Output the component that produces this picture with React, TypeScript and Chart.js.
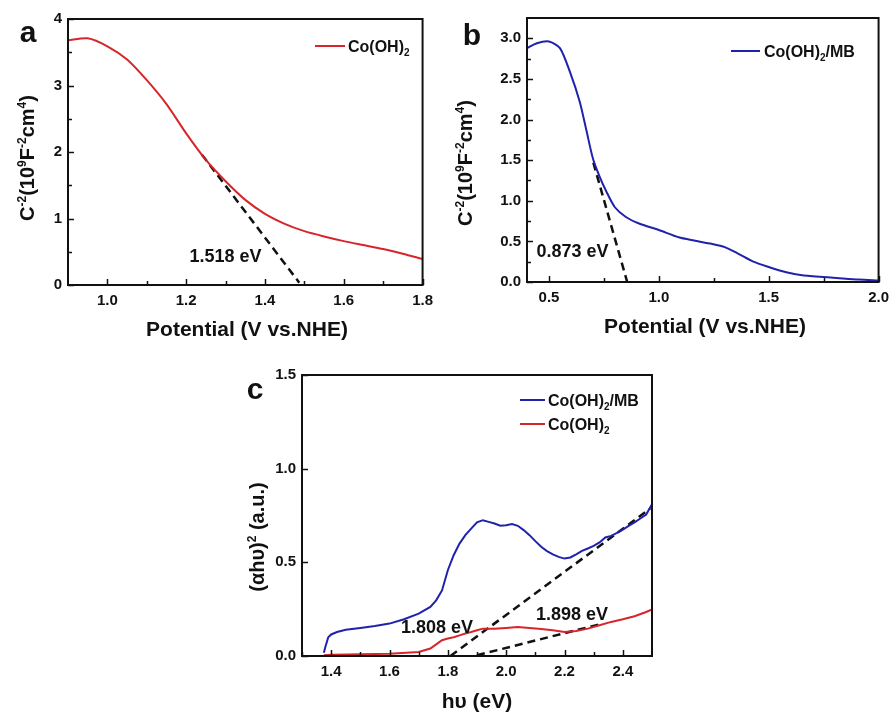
import React, { useEffect, useRef } from 'react';
import { Chart, registerables } from 'chart.js';

Chart.register(...registerables);

const FONT = '"Liberation Sans", Arial, Helvetica, sans-serif';
const RED = '#d7262b';
const BLUE = '#2022ad';
const INK = '#111111';

// ---------- Panel a : Mott-Schottky Co(OH)2 ----------
const aPotential = [0.90, 0.95, 1.00, 1.05, 1.10, 1.15, 1.20, 1.25, 1.30, 1.35, 1.40, 1.45, 1.50, 1.55, 1.60, 1.65, 1.70, 1.75, 1.80];
const aC2 = [3.68, 3.71, 3.59, 3.39, 3.08, 2.72, 2.28, 1.88, 1.56, 1.28, 1.07, 0.92, 0.81, 0.73, 0.66, 0.60, 0.54, 0.47, 0.39];
const aFitX = [1.24, 1.487];
const aFitY = [1.96, 0.035];
const aXMajor = [1.0, 1.2, 1.4, 1.6, 1.8];
const aXMinor = [1.1, 1.3, 1.5, 1.7];
const aYMajor = [0, 1, 2, 3, 4];
const aYMinor = [0.5, 1.5, 2.5, 3.5];

// ---------- Panel b : Mott-Schottky Co(OH)2/MB ----------
const bPotential = [0.40, 0.445, 0.50, 0.55, 0.595, 0.64, 0.67, 0.70, 0.73, 0.76, 0.80, 0.85, 0.91, 1.00, 1.09, 1.16, 1.24, 1.30, 1.36, 1.43, 1.50, 1.58, 1.66, 1.81, 1.91, 2.00];
const bC2 = [2.88, 2.94, 2.96, 2.88, 2.59, 2.22, 1.87, 1.52, 1.30, 1.12, 0.92, 0.80, 0.72, 0.64, 0.55, 0.51, 0.47, 0.43, 0.35, 0.25, 0.185, 0.12, 0.08, 0.05, 0.03, 0.02];
const bFitX = [0.702, 0.856];
const bFitY = [1.47, 0.0];
const bXMajor = [0.5, 1.0, 1.5, 2.0];
const bXMinor = [0.75, 1.25, 1.75];
const bYMajor = [0, 0.5, 1.0, 1.5, 2.0, 2.5, 3.0];
const bYMinor = [0.25, 0.75, 1.25, 1.75, 2.25, 2.75];

// ---------- Panel c : Tauc plot ----------
const cEnergyMB = [1.375, 1.38, 1.39, 1.40, 1.42, 1.45, 1.50, 1.55, 1.60, 1.65, 1.70, 1.74, 1.76, 1.78, 1.80, 1.82, 1.84, 1.86, 1.88, 1.90, 1.92, 1.94, 1.96, 1.98, 2.00, 2.02, 2.04, 2.06, 2.08, 2.10, 2.12, 2.14, 2.16, 2.18, 2.20, 2.22, 2.24, 2.26, 2.28, 2.30, 2.32, 2.34, 2.36, 2.38, 2.40, 2.42, 2.44, 2.46, 2.48, 2.50];
const cAbsMB = [0.018, 0.048, 0.10, 0.115, 0.128, 0.14, 0.15, 0.16, 0.173, 0.196, 0.226, 0.262, 0.297, 0.35, 0.458, 0.538, 0.60, 0.645, 0.68, 0.713, 0.725, 0.716, 0.707, 0.695, 0.698, 0.704, 0.695, 0.672, 0.645, 0.613, 0.583, 0.56, 0.542, 0.529, 0.52, 0.526, 0.543, 0.561, 0.574, 0.588, 0.606, 0.633, 0.641, 0.657, 0.675, 0.695, 0.713, 0.734, 0.755, 0.81];
const cEnergyCo = [1.375, 1.40, 1.50, 1.60, 1.70, 1.74, 1.76, 1.78, 1.80, 1.82, 1.84, 1.86, 1.88, 1.90, 1.92, 1.96, 2.00, 2.04, 2.08, 2.12, 2.16, 2.20, 2.24, 2.28, 2.32, 2.36, 2.40, 2.44, 2.48, 2.50];
const cAbsCo = [0.004, 0.007, 0.009, 0.012, 0.021, 0.04, 0.062, 0.084, 0.093, 0.10, 0.11, 0.12, 0.128, 0.137, 0.146, 0.146, 0.15, 0.155, 0.15, 0.144, 0.137, 0.128, 0.134, 0.146, 0.164, 0.182, 0.196, 0.212, 0.235, 0.248];
const cFit1X = [1.809, 2.494];
const cFit1Y = [0.0, 0.787];
const cFit2X = [1.90, 2.33];
const cFit2Y = [0.004, 0.173];
const cXMajor = [1.4, 1.6, 1.8, 2.0, 2.2, 2.4];
const cXMinor = [1.3, 1.5, 1.7, 1.9, 2.1, 2.3];
const cYMajor = [0, 0.5, 1.0, 1.5];
const cYMinor: number[] = [];

type Part = { t: string; s?: 'sup' | 'sub' };
type Series = { x: number[]; y: number[]; color: string; width: number; dash?: number[]; tension?: number };
type PanelSpec = {
  left: number; top: number; w: number; h: number;
  padTop: number; padRight: number; yAxisW: number; xAxisH: number;
  xMin: number; xMax: number; yMin: number; yMax: number;
  xMajor: number[]; xMinor: number[]; yMajor: number[]; yMinor: number[];
  xDec: number; yDec: number;
  series: Series[];
  legend: { x1: number; x2: number; tx: number; y: number; color: string; text: Part[] }[];
  letter: { t: string; x: number; y: number };
  xTitle: { text: Part[]; x: number; y: number };
  yTitle: { text: Part[]; x: number; y: number };
  notes: { t: string; x: number; y: number }[];
};

function richWidth(ctx: CanvasRenderingContext2D, parts: Part[], size: number) {
  let w = 0;
  for (const p of parts) {
    ctx.font = `bold ${p.s ? Math.round(size * 0.62) : size}px ${FONT}`;
    w += ctx.measureText(p.t).width;
  }
  return w;
}

function drawRich(ctx: CanvasRenderingContext2D, parts: Part[], x: number, baseline: number, size: number, align: 'left' | 'center') {
  const w = richWidth(ctx, parts, size);
  let cx = align === 'center' ? x - w / 2 : x;
  ctx.textAlign = 'left';
  ctx.textBaseline = 'alphabetic';
  for (const p of parts) {
    ctx.font = `bold ${p.s ? Math.round(size * 0.62) : size}px ${FONT}`;
    const dy = p.s === 'sup' ? -size * 0.42 : p.s === 'sub' ? size * 0.24 : 0;
    ctx.fillText(p.t, cx, baseline + dy);
    cx += ctx.measureText(p.t).width;
  }
}

function decor(spec: PanelSpec) {
  return {
    id: 'decor',
    afterDatasetsDraw(chart: any) {
      const { ctx, chartArea: ca } = chart;
      const xs = chart.scales.x;
      const ys = chart.scales.y;
      ctx.save();
      ctx.strokeStyle = INK;
      ctx.lineWidth = 2;
      ctx.strokeRect(ca.left, ca.top, ca.right - ca.left, ca.bottom - ca.top);
      ctx.lineWidth = 1.5;
      const tick = (vals: number[], len: number, axis: 'x' | 'y') => {
        for (const v of vals) {
          ctx.beginPath();
          if (axis === 'x') {
            const px = Math.round(xs.getPixelForValue(v)) + 0.5;
            ctx.moveTo(px, ca.bottom);
            ctx.lineTo(px, ca.bottom - len);
          } else {
            const py = Math.round(ys.getPixelForValue(v)) + 0.5;
            ctx.moveTo(ca.left, py);
            ctx.lineTo(ca.left + len, py);
          }
          ctx.stroke();
        }
      };
      tick(spec.xMajor, 6, 'x');
      tick(spec.xMinor, 4, 'x');
      tick(spec.yMajor, 6, 'y');
      tick(spec.yMinor, 4, 'y');

      ctx.fillStyle = INK;
      // notes
      for (const n of spec.notes) {
        ctx.font = `bold 18px ${FONT}`;
        ctx.textAlign = 'center';
        ctx.textBaseline = 'middle';
        ctx.fillText(n.t, xs.getPixelForValue(n.x), ys.getPixelForValue(n.y));
      }
      // legend
      for (const l of spec.legend) {
        ctx.strokeStyle = l.color;
        ctx.lineWidth = 2;
        ctx.beginPath();
        ctx.moveTo(l.x1, l.y);
        ctx.lineTo(l.x2, l.y);
        ctx.stroke();
        ctx.fillStyle = INK;
        drawRich(ctx, l.text, l.tx, l.y + 6, 16, 'left');
      }
      // panel letter
      ctx.font = `bold 30px ${FONT}`;
      ctx.textAlign = 'center';
      ctx.textBaseline = 'alphabetic';
      ctx.fillText(spec.letter.t, spec.letter.x, spec.letter.y);
      // x title
      drawRich(ctx, spec.xTitle.text, spec.xTitle.x, spec.xTitle.y + 7.5, 21, 'center');
      // y title
      ctx.translate(spec.yTitle.x, spec.yTitle.y);
      ctx.rotate(-Math.PI / 2);
      drawRich(ctx, spec.yTitle.text, 0, 7, 20, 'center');
      ctx.restore();
    },
  };
}

const co2: Part[] = [{ t: 'Co(OH)' }, { t: '2', s: 'sub' }];
const co2mb: Part[] = [{ t: 'Co(OH)' }, { t: '2', s: 'sub' }, { t: '/MB' }];
const msTitle: Part[] = [
  { t: 'C' }, { t: '-2', s: 'sup' }, { t: '(10' }, { t: '9', s: 'sup' }, { t: 'F' }, { t: '-2', s: 'sup' }, { t: 'cm' }, { t: '4', s: 'sup' }, { t: ')' },
];
const potTitle: Part[] = [{ t: 'Potential (V vs.NHE)' }];

const panelA: PanelSpec = {
  left: 0, top: 0, w: 440, h: 345,
  padTop: 19, padRight: 13, yAxisW: 68, xAxisH: 60,
  xMin: 0.9, xMax: 1.8, yMin: 0, yMax: 4,
  xMajor: aXMajor, xMinor: aXMinor, yMajor: aYMajor, yMinor: aYMinor, xDec: 1, yDec: 0,
  series: [
    { x: aPotential, y: aC2, color: RED, width: 2, tension: 0.25 },
    { x: aFitX, y: aFitY, color: INK, width: 2.5, dash: [8, 5] },
  ],
  legend: [{ x1: 315, x2: 345, tx: 348, y: 46, color: RED, text: co2 }],
  letter: { t: 'a', x: 28, y: 42 },
  xTitle: { text: potTitle, x: 247, y: 328 },
  yTitle: { text: msTitle, x: 27, y: 158 },
  notes: [{ t: '1.518 eV', x: 1.30, y: 0.42 }],
};

const panelB: PanelSpec = {
  left: 440, top: 0, w: 456, h: 345,
  padTop: 18, padRight: 13, yAxisW: 87, xAxisH: 63,
  xMin: 0.4, xMax: 2.0, yMin: 0, yMax: 3.25,
  xMajor: bXMajor, xMinor: bXMinor, yMajor: bYMajor, yMinor: bYMinor, xDec: 1, yDec: 1,
  series: [
    { x: bPotential, y: bC2, color: BLUE, width: 2, tension: 0.25 },
    { x: bFitX, y: bFitY, color: INK, width: 2.5, dash: [8, 5] },
  ],
  legend: [{ x1: 291, x2: 320, tx: 324, y: 51, color: BLUE, text: co2mb }],
  letter: { t: 'b', x: 32, y: 45 },
  xTitle: { text: potTitle, x: 265, y: 325 },
  yTitle: { text: msTitle, x: 25, y: 163 },
  notes: [{ t: '0.873 eV', x: 0.607, y: 0.37 }],
};

const panelC: PanelSpec = {
  left: 220, top: 360, w: 450, h: 353,
  padTop: 15, padRight: 18, yAxisW: 82, xAxisH: 57,
  xMin: 1.3, xMax: 2.5, yMin: 0, yMax: 1.5,
  xMajor: cXMajor, xMinor: cXMinor, yMajor: cYMajor, yMinor: cYMinor, xDec: 1, yDec: 1,
  series: [
    { x: cEnergyMB, y: cAbsMB, color: BLUE, width: 2 },
    { x: cEnergyCo, y: cAbsCo, color: RED, width: 2 },
    { x: cFit1X, y: cFit1Y, color: INK, width: 2.5, dash: [8, 5] },
    { x: cFit2X, y: cFit2Y, color: INK, width: 2.5, dash: [8, 5] },
  ],
  legend: [
    { x1: 300, x2: 325, tx: 328, y: 40, color: BLUE, text: co2mb },
    { x1: 300, x2: 325, tx: 328, y: 64, color: RED, text: co2 },
  ],
  letter: { t: 'c', x: 35, y: 39 },
  xTitle: { text: [{ t: 'h\u03c5 (eV)' }], x: 257, y: 340 },
  yTitle: { text: [{ t: '(\u03b1h\u03c5)' }, { t: '2', s: 'sup' }, { t: ' (a.u.)' }], x: 37, y: 177 },
  notes: [
    { t: '1.808 eV', x: 1.763, y: 0.15 },
    { t: '1.898 eV', x: 2.226, y: 0.219 },
  ],
};

function Panel({ spec }: { spec: PanelSpec }) {
  const ref = useRef<HTMLCanvasElement>(null);
  useEffect(() => {
    const canvas = ref.current;
    if (!canvas) return;
    const tickFont = { family: FONT, size: 15, weight: 'bold' as const };
    const chart = new Chart(canvas, {
      type: 'scatter',
      data: {
        datasets: spec.series.map((s) => ({
          data: s.x.map((x, i) => ({ x, y: s.y[i] })),
          showLine: true,
          borderColor: s.color,
          backgroundColor: s.color,
          borderWidth: s.width,
          borderDash: s.dash || [],
          pointRadius: 0,
          tension: s.tension || 0,
          fill: false,
        })),
      },
      options: {
        responsive: false,
        animation: false,
        devicePixelRatio: 1,
        layout: { padding: { left: 0, top: spec.padTop, right: spec.padRight, bottom: 0 } },
        plugins: { legend: { display: false }, tooltip: { enabled: false } },
        scales: {
          x: {
            type: 'linear',
            min: spec.xMin,
            max: spec.xMax,
            grid: { display: false, drawTicks: false },
            border: { display: false },
            ticks: {
              font: tickFont,
              color: INK,
              padding: 7,
              maxRotation: 0,
              autoSkip: false,
              callback: (v: any) => Number(v).toFixed(spec.xDec),
            },
            afterBuildTicks: (s: any) => {
              s.ticks = spec.xMajor.map((v) => ({ value: v }));
            },
            afterFit: (s: any) => {
              s.height = spec.xAxisH;
            },
          },
          y: {
            type: 'linear',
            min: spec.yMin,
            max: spec.yMax,
            grid: { display: false, drawTicks: false },
            border: { display: false },
            ticks: {
              font: tickFont,
              color: INK,
              padding: 6,
              autoSkip: false,
              callback: (v: any) => Number(v).toFixed(spec.yDec),
            },
            afterBuildTicks: (s: any) => {
              s.ticks = spec.yMajor.map((v) => ({ value: v }));
            },
            afterFit: (s: any) => {
              s.width = spec.yAxisW;
            },
          },
        },
      },
      plugins: [decor(spec)],
    } as any);
    return () => chart.destroy();
  }, [spec]);
  return (
    <canvas
      ref={ref}
      width={spec.w}
      height={spec.h}
      style={{ position: 'absolute', left: spec.left, top: spec.top, width: spec.w, height: spec.h }}
    />
  );
}

export default function App() {
  return (
    <div style={{ position: 'absolute', left: 0, top: 0, width: 896, height: 713, background: '#ffffff', overflow: 'hidden' }}>
      <Panel spec={panelA} />
      <Panel spec={panelB} />
      <Panel spec={panelC} />
    </div>
  );
}
